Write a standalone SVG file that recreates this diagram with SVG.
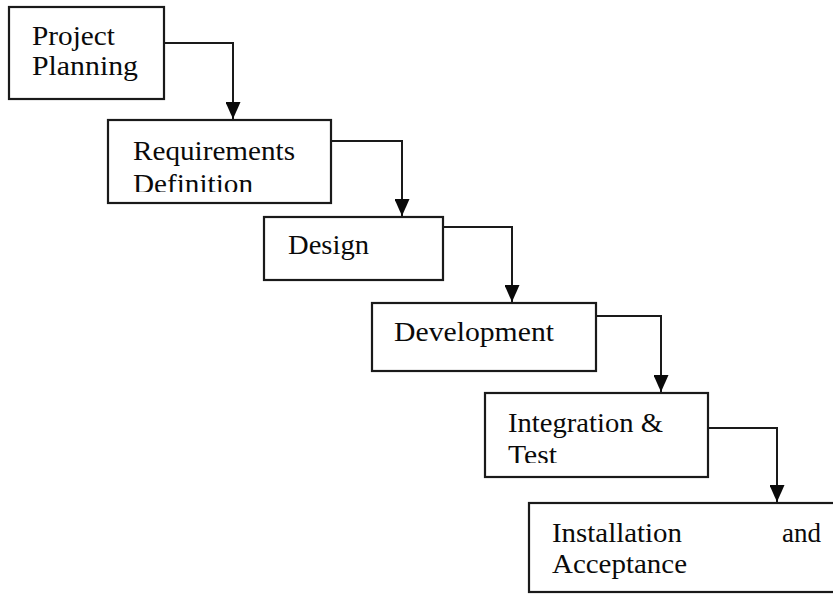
<svg xmlns="http://www.w3.org/2000/svg" width="833" height="594" viewBox="0 0 833 594">
  <style>
    .box { fill: #ffffff; stroke: #1a1a1a; stroke-width: 2.2; }
    .lbl { font-family: "Liberation Serif", "Times New Roman", serif; font-size: 27px; fill: #0a0a0a; }
    .wire { fill: none; stroke: #1a1a1a; stroke-width: 2; }
  </style>
  <defs>
    <marker id="arrow" markerWidth="17" markerHeight="15" refX="17" refY="7.5" orient="auto" markerUnits="userSpaceOnUse" viewBox="0 0 17 15">
      <path d="M0,0 L17,7.5 L0,15 Z" fill="#0a0a0a"/>
    </marker>
    <clipPath id="clipReq"><rect x="108" y="120" width="223" height="72"/></clipPath>
    <clipPath id="clipInt"><rect x="485" y="393" width="223" height="70"/></clipPath>
  </defs>
  <rect width="833" height="594" fill="#ffffff"/>

  <g id="connectors">
    <path class="wire" d="M164,43 H233 V119" marker-end="url(#arrow)"/>
    <path class="wire" d="M331,141 H402 V216" marker-end="url(#arrow)"/>
    <path class="wire" d="M443,227 H512 V302" marker-end="url(#arrow)"/>
    <path class="wire" d="M596,316 H661 V392" marker-end="url(#arrow)"/>
    <path class="wire" d="M708,428 H777 V502" marker-end="url(#arrow)"/>
  </g>

  <g id="project-planning">
    <rect class="box" x="9" y="7" width="155" height="92"/>
    <text class="lbl" x="32" y="45" textLength="83" lengthAdjust="spacingAndGlyphs">Project</text>
    <text class="lbl" x="32" y="75" textLength="106" lengthAdjust="spacingAndGlyphs">Planning</text>
  </g>

  <g id="requirements-definition">
    <rect class="box" x="108" y="120" width="223" height="83"/>
    <g clip-path="url(#clipReq)">
      <text class="lbl" x="133" y="160" textLength="162" lengthAdjust="spacingAndGlyphs">Requirements</text>
      <text class="lbl" x="133" y="193" textLength="120" lengthAdjust="spacingAndGlyphs">Definition</text>
    </g>
  </g>

  <g id="design">
    <rect class="box" x="264" y="217" width="179" height="63"/>
    <text class="lbl" x="288" y="254" textLength="81" lengthAdjust="spacingAndGlyphs">Design</text>
  </g>

  <g id="development">
    <rect class="box" x="372" y="303" width="224" height="68"/>
    <text class="lbl" x="394" y="341" textLength="160" lengthAdjust="spacingAndGlyphs">Development</text>
  </g>

  <g id="integration-test">
    <rect class="box" x="485" y="393" width="223" height="84"/>
    <g clip-path="url(#clipInt)">
      <text class="lbl" x="508" y="432" textLength="155" lengthAdjust="spacingAndGlyphs">Integration &amp;</text>
      <text class="lbl" x="508" y="464" textLength="49" lengthAdjust="spacingAndGlyphs">Test</text>
    </g>
  </g>

  <g id="installation-acceptance">
    <rect class="box" x="529" y="503" width="320" height="89"/>
    <text class="lbl" x="552" y="542" textLength="130" lengthAdjust="spacingAndGlyphs">Installation</text>
    <text class="lbl" x="782" y="542" textLength="39" lengthAdjust="spacingAndGlyphs">and</text>
    <text class="lbl" x="552" y="573" textLength="135" lengthAdjust="spacingAndGlyphs">Acceptance</text>
  </g>
</svg>
